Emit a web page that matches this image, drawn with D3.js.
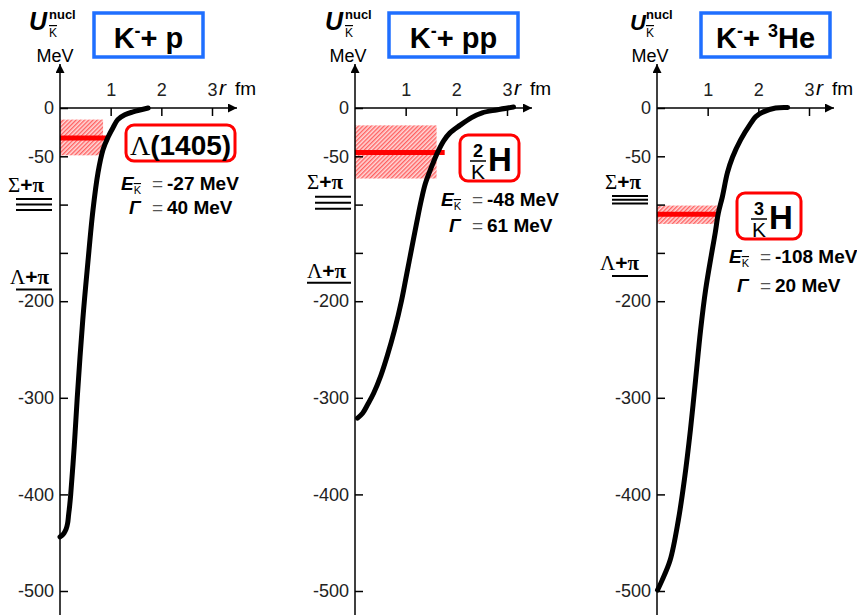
<!DOCTYPE html>
<html lang="en">
<head>
<meta charset="UTF-8">
<title>Kaonic nuclear potentials</title>
<script src="https://d3js.org/d3.v7.min.js"></script>
<style>
    body { margin: 0; background: #fff; }
    text { font-family: "Liberation Sans", Arial, sans-serif; fill: #000; }
    .serif { font-family: "Liberation Serif", "Times New Roman", serif; }
    .tick text { font-family: "Liberation Sans", Arial, sans-serif; font-size: 18px; fill: #222; }
    .tick line { stroke: #000; stroke-width: 1.5; }
</style>
</head>
<body>
<script>
    // ---- data ----
    let titles = [
        [["K", 0], ["-", 1], ["+ p", 0]],
        [["K", 0], ["-", 1], ["+ pp", 0]],
        [["K", 0], ["-", 1], ["+ ", 0], ["3", 1], ["He", 0]]
    ];
    let stateE = [-27, -48, -108];
    let stateGamma = [40, 61, 20];
    let nucleonNumber = [null, "2", "3"];

    // hatched width band and bound-state level (MeV), and their reach in r (fm)
    let bandTop = [-12, -18, -101];
    let bandBottom = [-49, -73, -120];
    let levelU = [-31, -46, -110];
    let bandEnd = [0.85, 1.61, 1.19];
    let levelEnd = [0.95, 1.77, 1.19];

    // decay thresholds (MeV)
    let sigmaPi = [-100, -98, -95];
    let lambdaPi = [-188, -181, -174];

    // potential curves U(r)
    let rP = [0, 0.04, 0.08, 0.12, 0.15, 0.17, 0.19, 0.21, 0.28, 0.34, 0.45, 0.55, 0.65, 0.75, 0.85, 0.95, 1.05, 1.14, 1.28, 1.44, 1.74];
    let uP = [-444, -442.5, -440, -436, -430, -421, -412, -401, -351, -300, -219, -160, -106, -67, -43, -30, -20, -12, -7, -4, 0];
    let rPP = [0.05, 0.15, 0.25, 0.37, 0.51, 0.64, 0.78, 0.92, 1.02, 1.12, 1.22, 1.31, 1.39, 1.51, 1.63, 1.75, 1.87, 2.07, 2.30, 2.51, 2.79, 3.13];
    let uPP = [-321, -316, -307, -295, -277, -256, -230, -199, -172, -145, -118, -95, -78, -61, -46, -34, -26, -18, -10, -5, -2, 1];
    let rHe = [0.01, 0.10, 0.26, 0.42, 0.54, 0.66, 0.76, 0.86, 0.96, 1.09, 1.15, 1.21, 1.29, 1.39, 1.49, 1.65, 1.85, 1.95, 2.10, 2.34, 2.58];
    let uHe = [-499, -489, -468, -427, -385, -333, -282, -230, -188, -147, -129, -109, -92, -67, -51, -33, -16, -9, -4, 0, 0.5];
    let curvesR = [rP, rPP, rHe];
    let curvesU = [uP, uPP, uHe];

    let yTicks = [0, -50, -100, -150, -200, -300, -400, -500];
    let yTickLabels = ["0", "-50", "", "", "-200", "-300", "-400", "-500"];
    let xTicks = [1, 2, 3];
    let xTickLabels = ["1", "2", "3"];

    // ---- layout ----
    let layout = [
        { ox: 60, titleBox: [94, 13, 109, 44], stateBox: [126, 125, 109, 36], eqX: 152, eY: 190, gY: 213,
          sigmaText: [8, -13], threshX: [16, 52], gap: 5.5, lambdaText: [10, -6], uX: 29, meV: 55 },
        { ox: 355, titleBox: [389, 13, 129, 44], stateBox: [460, 135, 59, 46], eqX: 472, eY: 206, gY: 231,
          sigmaText: [307, -14], threshX: [315, 351], gap: 6, lambdaText: [307, -5], uX: 325, meV: 348 },
        { ox: 657, titleBox: [701, 13, 129, 44], stateBox: [737, 193, 64, 46], eqX: 760, eY: 263, gY: 291,
          sigmaText: [605, -11], threshX: [612, 648], gap: 3.8, lambdaText: [600, -6], uX: 630, meV: 650 }
    ];

    let width = 857, height = 615;
    let svg = d3.select("body").append("svg")
        .attr("width", width)
        .attr("height", height);

    let defs = svg.append("defs");
    let hatch = defs.append("pattern")
        .attr("id", "hatch")
        .attr("patternUnits", "userSpaceOnUse")
        .attr("width", 3).attr("height", 3)
        .attr("patternTransform", "rotate(45)");
    hatch.append("rect").attr("width", 3).attr("height", 3).attr("fill", "#ffd9d9");
    hatch.append("line").attr("x1", 0.7).attr("y1", 0).attr("x2", 0.7).attr("y2", 3)
        .attr("stroke", "#ff5a5a").attr("stroke-width", 1.3);

    defs.append("marker")
        .attr("id", "arrow")
        .attr("viewBox", "0 0 10 10")
        .attr("refX", 10).attr("refY", 5)
        .attr("markerUnits", "userSpaceOnUse")
        .attr("markerWidth", 9).attr("markerHeight", 9)
        .attr("orient", "auto")
        .append("path").attr("d", "M0,0 L10,5 L0,10 z").attr("fill", "#000");

    let y = d3.scaleLinear().domain([0, -500]).range([108, 591]);

    for (let i = 0; i < 3; i++) {
        let L = layout[i];
        let x = d3.scaleLinear().domain([0, 3]).range([L.ox, L.ox + 152]);

        // title box
        svg.append("rect")
            .attr("x", L.titleBox[0]).attr("y", L.titleBox[1])
            .attr("width", L.titleBox[2]).attr("height", L.titleBox[3])
            .attr("fill", "none").attr("stroke", "#1f6fff").attr("stroke-width", 3.5);
        let title = svg.append("text")
            .attr("x", L.titleBox[0] + L.titleBox[2] / 2)
            .attr("y", 48)
            .attr("text-anchor", "middle")
            .attr("font-size", 29)
            .attr("font-weight", "bold");
        let up = false;
        titles[i].forEach(p => {
            let ts = title.append("tspan").text(p[0]);
            if (p[1] && !up) { ts.attr("dy", -11).attr("font-size", 18); up = true; }
            else if (!p[1] && up) { ts.attr("dy", 11); up = false; }
        });

        // axis label U^nucl_K, MeV
        let ul = svg.append("text").attr("x", L.uX).attr("y", 30)
            .attr("font-size", i == 2 ? 22 : 25).attr("font-weight", "bold").attr("font-style", "italic");
        ul.append("tspan").text("U");
        svg.append("text").attr("x", L.uX + (i == 2 ? 16 : 20)).attr("y", 19)
            .attr("font-size", 13).attr("font-weight", "bold").text("nucl");
        svg.append("text").attr("x", L.uX + (i == 2 ? 16 : 20)).attr("y", 37)
            .attr("font-size", 12).style("text-decoration", "overline").text("K");
        svg.append("text").attr("x", L.meV).attr("y", 62).attr("text-anchor", "middle")
            .attr("font-size", 18).text("MeV");

        // hatched band and level
        svg.append("rect")
            .attr("x", x(0)).attr("y", y(bandTop[i]))
            .attr("width", x(bandEnd[i]) - x(0))
            .attr("height", y(bandBottom[i]) - y(bandTop[i]))
            .attr("fill", "url(#hatch)");
        svg.append("line")
            .attr("x1", x(0)).attr("x2", x(levelEnd[i]))
            .attr("y1", y(levelU[i])).attr("y2", y(levelU[i]))
            .attr("stroke", "#ff0000").attr("stroke-width", 5);

        // axes
        let yAxis = svg.append("g")
            .attr("transform", "translate(" + L.ox + ",0)")
            .call(d3.axisLeft(y).tickValues(yTicks).tickSizeInner(-8).tickSizeOuter(0).tickPadding(6)
                .tickFormat((d, k) => yTickLabels[k]));
        yAxis.select(".domain").remove();
        yAxis.attr("font-family", null).attr("font-size", null);

        let xAxis = svg.append("g")
            .attr("transform", "translate(0,108)")
            .call(d3.axisTop(x).tickValues(xTicks).tickSizeInner(-8).tickSizeOuter(0).tickPadding(12)
                .tickFormat((d, k) => xTickLabels[k]));
        xAxis.select(".domain").remove();
        xAxis.attr("font-family", null).attr("font-size", null);

        svg.append("line")
            .attr("x1", L.ox).attr("x2", L.ox).attr("y1", height).attr("y2", 64)
            .attr("stroke", "#000").attr("stroke-width", 1.5).attr("marker-end", "url(#arrow)");
        svg.append("line")
            .attr("x1", L.ox).attr("x2", L.ox + 177).attr("y1", 108).attr("y2", 108)
            .attr("stroke", "#000").attr("stroke-width", 1.5).attr("marker-end", "url(#arrow)");

        let rl = svg.append("text").attr("x", L.ox + 159).attr("y", 95).attr("font-size", 21);
        rl.append("tspan").attr("font-style", "italic").text("r");
        rl.append("tspan").attr("dx", 9).attr("font-size", 19).text("fm");

        // thresholds
        let ys = y(sigmaPi[i]);
        let st = svg.append("text").attr("x", L.sigmaText[0]).attr("y", ys + L.sigmaText[1]).attr("font-size", 21);
        st.append("tspan").attr("class", "serif").text("Σ");
        st.append("tspan").attr("font-weight", "bold").text("+");
        st.append("tspan").attr("class", "serif").attr("font-weight", "bold").text("π");
        [-1, 0, 1].forEach(k =>
            svg.append("line")
                .attr("x1", L.threshX[0]).attr("x2", L.threshX[1])
                .attr("y1", ys + k * L.gap).attr("y2", ys + k * L.gap)
                .attr("stroke", "#000").attr("stroke-width", 2)
        );
        let yl = y(lambdaPi[i]);
        let lt = svg.append("text").attr("x", L.lambdaText[0]).attr("y", yl + L.lambdaText[1]).attr("font-size", 21);
        lt.append("tspan").attr("class", "serif").text("Λ");
        lt.append("tspan").attr("font-weight", "bold").text("+");
        lt.append("tspan").attr("class", "serif").attr("font-weight", "bold").text("π");
        svg.append("line")
            .attr("x1", L.threshX[0] - (i == 1 ? 8 : 0)).attr("x2", L.threshX[1])
            .attr("y1", yl).attr("y2", yl)
            .attr("stroke", "#000").attr("stroke-width", 2);

        // potential curve
        let pts = curvesR[i].map((r, k) => [x(r), y(curvesU[i][k])]);
        svg.append("path")
            .datum(pts)
            .attr("d", d3.line().curve(d3.curveCatmullRom.alpha(0.5)))
            .attr("fill", "none")
            .attr("stroke", "#000")
            .attr("stroke-width", 5)
            .attr("stroke-linecap", "round")
            .attr("stroke-linejoin", "round");

        // state box
        let sb = L.stateBox;
        svg.append("rect")
            .attr("x", sb[0]).attr("y", sb[1]).attr("width", sb[2]).attr("height", sb[3])
            .attr("rx", 8).attr("fill", "#fff")
            .attr("stroke", "#ff0000").attr("stroke-width", 3);
        if (i == 0) {
            let lb = svg.append("text").attr("x", sb[0] + sb[2] / 2).attr("y", sb[1] + 30)
                .attr("text-anchor", "middle").attr("font-size", 28);
            lb.append("tspan").attr("class", "serif").text("Λ");
            lb.append("tspan").attr("font-weight", "bold").text("(1405)");
        } else {
            let cx = sb[0] + (i == 1 ? 18 : 22);
            svg.append("text").attr("x", cx).attr("y", sb[1] + 22).attr("text-anchor", "middle")
                .attr("font-size", 18).attr("font-weight", "bold").text(nucleonNumber[i]);
            svg.append("line").attr("x1", cx - 8).attr("x2", cx + 8)
                .attr("y1", sb[1] + 26).attr("y2", sb[1] + 26)
                .attr("stroke", "#000").attr("stroke-width", 1.5);
            svg.append("text").attr("x", cx).attr("y", sb[1] + 44).attr("text-anchor", "middle")
                .attr("font-size", 21).text("K");
            svg.append("text").attr("x", cx + 10).attr("y", sb[1] + 36)
                .attr("font-size", 33).attr("font-weight", "bold").text("H");
        }

        // E and Gamma
        let et = svg.append("text").attr("x", L.eqX - 31).attr("y", L.eY)
            .attr("font-size", 19).attr("font-weight", "bold");
        et.append("tspan").attr("font-style", "italic").text("E");
        et.append("tspan").attr("dy", 4).attr("font-size", 11).attr("font-weight", "normal")
            .style("text-decoration", "overline").text("K");
        et.append("tspan").attr("x", L.eqX).attr("dy", -4).attr("font-weight", "normal").attr("fill", "#555").text("=");
        et.append("tspan").attr("x", L.eqX + 15).text(stateE[i] + " MeV");

        let gt = svg.append("text").attr("x", L.eqX - 23).attr("y", L.gY + 1)
            .attr("font-size", 19).attr("font-weight", "bold");
        gt.append("tspan").attr("font-style", "italic").text("Γ");
        gt.append("tspan").attr("x", L.eqX).attr("font-weight", "normal").attr("fill", "#555").text("=");
        gt.append("tspan").attr("x", L.eqX + 15).text(stateGamma[i] + " MeV");
    }
</script>
</body>
</html>
